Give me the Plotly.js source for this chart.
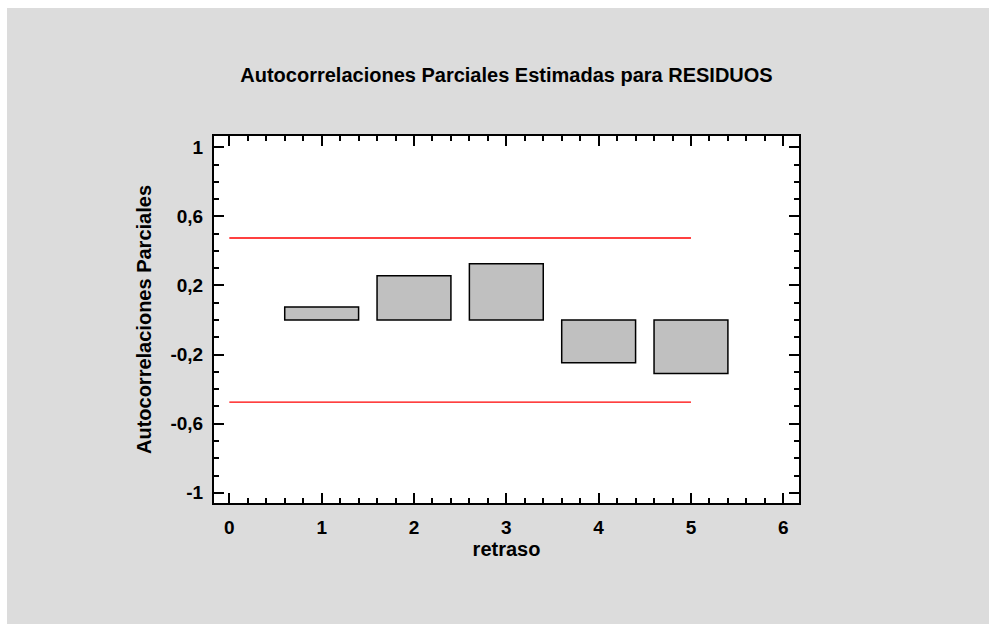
<!DOCTYPE html>
<html>
<head>
<meta charset="utf-8">
<script src="https://cdn.plot.ly/plotly-3.0.1.min.js"></script>
<style>
html,body{margin:0;padding:0;background:#ffffff;}
#chart{position:absolute;left:7px;top:8px;width:982px;height:616px;}
</style>
</head>
<body>
<div id="chart"></div>
<script>
// Data
const lags = [1, 2, 3, 4, 5];
const pacf = [0.075, 0.256, 0.326, -0.247, -0.31];
const limitX = [0, 5];
const upperLimit = [0.475, 0.475];
const lowerLimit = [-0.475, -0.475];
const titleText = 'Autocorrelaciones Parciales Estimadas para RESIDUOS';
const xTitle = 'retraso';
const yTitle = 'Autocorrelaciones Parciales';
const yTickVals = [-1, -0.6, -0.2, 0.2, 0.6, 1];
const yTickText = ['-1', '-0,6', '-0,2', '0,2', '0,6', '1'];
const xTickVals = [0, 1, 2, 3, 4, 5, 6];

const FONT = 'Arial, "Liberation Sans", sans-serif';

const traces = [
  {
    type: 'bar', x: lags, y: pacf, width: 0.8,
    marker: {color: '#c0c0c0', line: {color: '#000000', width: 1.5}},
    hoverinfo: 'x+y'
  },
  {
    type: 'scatter', mode: 'lines', x: limitX, y: upperLimit,
    line: {color: '#ff0000', width: 1.4}
  },
  {
    type: 'scatter', mode: 'lines', x: limitX, y: lowerLimit,
    line: {color: '#ff0000', width: 1.4}
  }
];

const axisCommon = {
  showgrid: false, zeroline: false,
  showline: true, linecolor: '#000000', linewidth: 2,
  mirror: 'ticks',
  ticks: 'inside', ticklen: 10, tickwidth: 2, tickcolor: '#000000',
  tickfont: {family: FONT, size: 19, color: '#000000', weight: 'bold'}
};

const layout = {
  width: 982, height: 616,
  paper_bgcolor: '#dcdcdc',
  plot_bgcolor: '#ffffff',
  showlegend: false,
  margin: {l: 207, r: 190, t: 127.5, b: 121, pad: 0},
  title: {
    text: titleText,
    font: {family: FONT, size: 20, color: '#000000', weight: 'bold'},
    x: 0.5, xref: 'paper', xanchor: 'center',
    y: 1 - 67/616, yref: 'container', yanchor: 'middle'
  },
  xaxis: Object.assign({}, axisCommon, {
    range: [-0.166, 6.17],
    tickmode: 'array', tickvals: xTickVals,
    ticklabelstandoff: 6,
    minor: {dtick: 0.2, ticks: 'inside', ticklen: 5, tickwidth: 2, tickcolor: '#000000'},
    title: {text: xTitle, standoff: 4, font: {family: FONT, size: 20, color: '#000000', weight: 'bold'}}
  }),
  yaxis: Object.assign({}, axisCommon, {
    range: [-1.059, 1.065],
    tickmode: 'array', tickvals: yTickVals, ticktext: yTickText,
    ticklabelstandoff: 5,
    minor: {dtick: 0.1, tick0: 0, ticks: 'inside', ticklen: 5, tickwidth: 2, tickcolor: '#000000'},
    title: {text: yTitle, standoff: 13, font: {family: FONT, size: 20, color: '#000000', weight: 'bold'}}
  })
};

Plotly.newPlot('chart', traces, layout, {displayModeBar: false, staticPlot: true});
</script>
</body>
</html>
